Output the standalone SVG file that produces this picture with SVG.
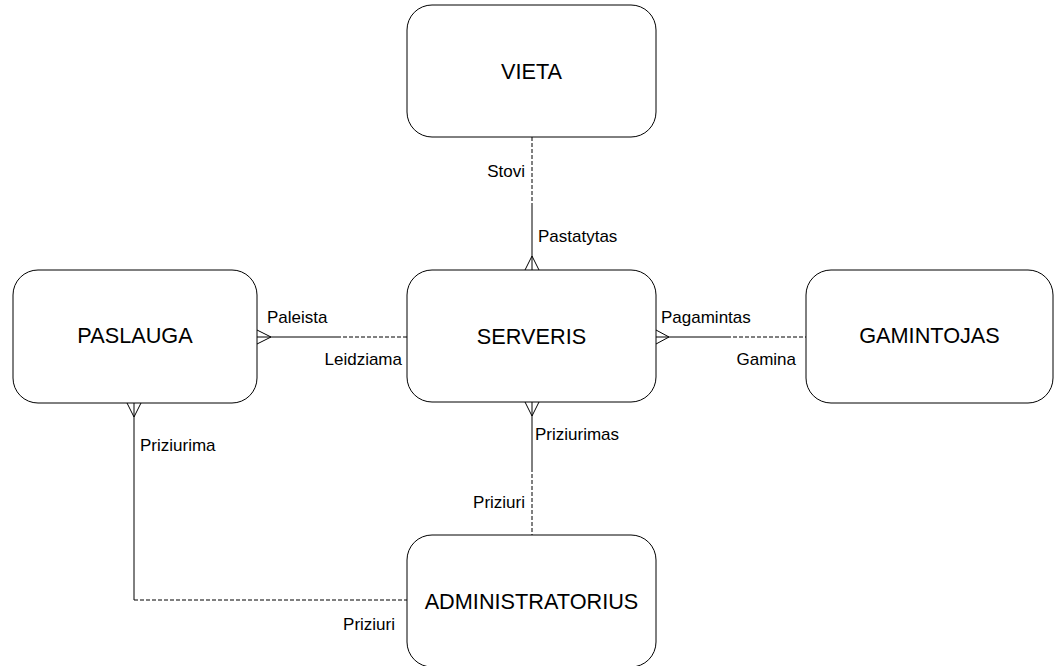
<svg xmlns="http://www.w3.org/2000/svg" width="1055" height="666" viewBox="0 0 1055 666">
<style>
.box{fill:#fff;stroke:#000;stroke-width:1}
.nt{font-family:"Liberation Sans",Arial,sans-serif;font-size:21.7px;fill:#000;text-anchor:middle}
.lb{font-family:"Liberation Sans",Arial,sans-serif;font-size:17px;fill:#000}
.r{text-anchor:end}
.s{stroke:#000;stroke-width:1;fill:none}
.d{stroke:#000;stroke-width:1;fill:none;stroke-dasharray:4 2}
</style>
<rect width="1055" height="666" fill="#fff"/>
<g id="connectors">
<line class="d" x1="532" y1="137" x2="532" y2="203"/>
<line class="s" x1="532" y1="203" x2="532" y2="270"/>
<path class="s" d="M525 270 L532 256 L539 270"/>
<line class="s" x1="257" y1="337" x2="337" y2="337"/>
<line class="d" x1="337" y1="337" x2="407" y2="337"/>
<path class="s" d="M257 330 L271 337 L257 344"/>
<line class="s" x1="656" y1="337" x2="727" y2="337"/>
<line class="d" x1="727" y1="337" x2="806" y2="337"/>
<path class="s" d="M656 330 L669 337 L656 344"/>
<line class="s" x1="532" y1="402" x2="532" y2="468"/>
<line class="d" x1="532" y1="468" x2="532" y2="535"/>
<path class="s" d="M525 402 L532 416 L539 402"/>
<line class="s" x1="134" y1="403" x2="134" y2="600"/>
<line class="d" x1="134" y1="600" x2="407" y2="600"/>
<path class="s" d="M127 403 L134 417 L141 403"/>
<text class="lb r" x="525" y="177">Stovi</text>
<text class="lb" x="538" y="242">Pastatytas</text>
<text class="lb" x="267" y="323">Paleista</text>
<text class="lb r" x="402" y="365">Leidziama</text>
<text class="lb" x="661" y="323">Pagamintas</text>
<text class="lb r" x="796" y="365">Gamina</text>
<text class="lb" x="535" y="440">Priziurimas</text>
<text class="lb r" x="525" y="508">Priziuri</text>
<text class="lb" x="140" y="451">Priziurima</text>
<text class="lb r" x="395" y="630">Priziuri</text>
</g>
<g id="vieta"><rect class="box" x="407" y="5" width="249" height="132" rx="25"/><text class="nt" x="531.5" y="79">VIETA</text></g>
<g id="serveris"><rect class="box" x="407" y="270" width="249" height="132" rx="25"/><text class="nt" x="531.5" y="344">SERVERIS</text></g>
<g id="paslauga"><rect class="box" x="13" y="270" width="244" height="133" rx="25"/><text class="nt" x="135" y="343">PASLAUGA</text></g>
<g id="gamintojas"><rect class="box" x="806" y="270" width="247" height="133" rx="25"/><text class="nt" x="929.5" y="343">GAMINTOJAS</text></g>
<g id="administratorius"><rect class="box" x="407" y="535" width="249" height="132" rx="25"/><text class="nt" x="531.5" y="609">ADMINISTRATORIUS</text></g>
</svg>
